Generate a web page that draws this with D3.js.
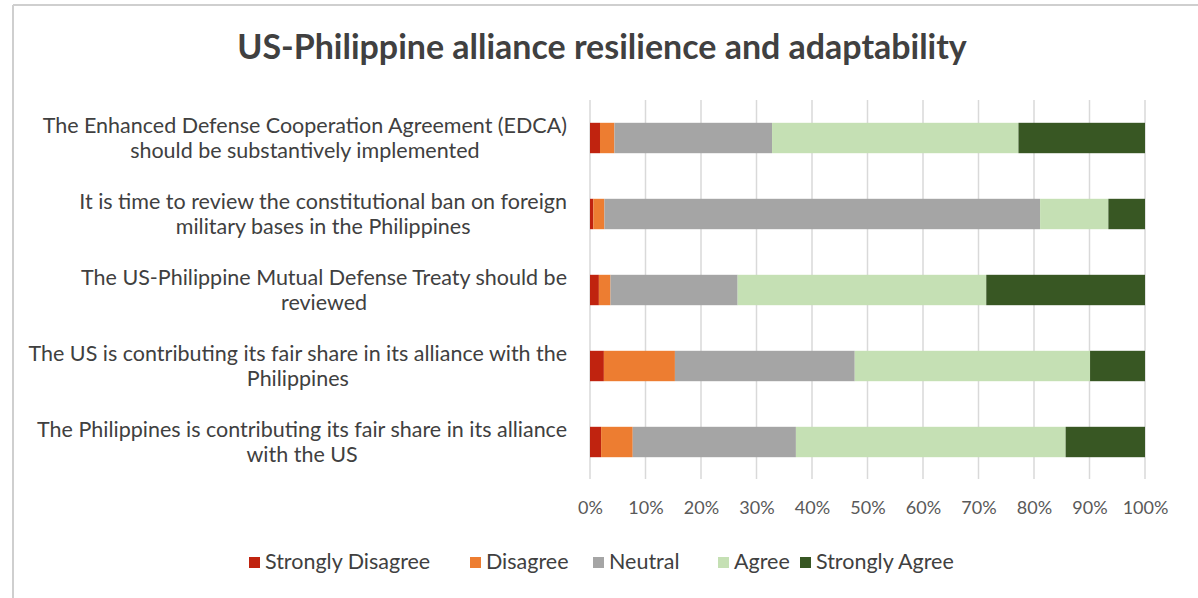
<!DOCTYPE html>
<html>
<head>
<meta charset="utf-8">
<script src="https://cdn.jsdelivr.net/npm/d3@7"></script>
<style>
  html, body { margin: 0; padding: 0; background: #ffffff; }
  svg { display: block; }
  text { font-family: Lato, "Open Sans", "DejaVu Sans", sans-serif; }
</style>
</head>
<body>
<svg id="chart" width="1198" height="598"></svg>
<script>
// Survey statements (top to bottom), each split into its display lines
const statements = [
  ["The Enhanced Defense Cooperation Agreement (EDCA)", "should be substantively implemented"],
  ["It is time to review the constitutional ban on foreign", "military bases in the Philippines"],
  ["The US-Philippine Mutual Defense Treaty should be", "reviewed"],
  ["The US is contributing its fair share in its alliance with the", "Philippines"],
  ["The Philippines is contributing its fair share in its alliance", "with the US"]
];

const responses = ["Strongly Disagree", "Disagree", "Neutral", "Agree", "Strongly Agree"];

// Share of respondents (%) per statement, in the order of `statements`
const stronglyDisagree = [1.8, 0.6, 1.6, 2.5, 2.0];
const disagree         = [2.6, 2.0, 2.1, 12.8, 5.7];
const neutral          = [28.4, 78.5, 22.9, 32.4, 29.4];
const agree            = [44.4, 12.3, 44.8, 42.4, 48.6];
const stronglyAgree    = [22.8, 6.6, 28.6, 9.9, 14.3];

const tickValues = [0, 0.1, 0.2, 0.3, 0.4, 0.5, 0.6, 0.7, 0.8, 0.9, 1.0];

const colors = ["#c0230f", "#ed7d31", "#a5a5a5", "#c5e0b4", "#385723"];

const svg = d3.select("#chart");

// frame
svg.append("line").attr("x1", 13).attr("y1", 5).attr("x2", 1198).attr("y2", 5)
  .attr("stroke", "#cfcfcf").attr("stroke-width", 2);
svg.append("line").attr("x1", 13).attr("y1", 5).attr("x2", 13).attr("y2", 598)
  .attr("stroke", "#cfcfcf").attr("stroke-width", 2);

// scale a text element's font so it spans the given width
function fitWidth(sel, width) {
  const node = sel.node();
  const w = node.getComputedTextLength();
  const fs = parseFloat(sel.attr("font-size"));
  sel.attr("font-size", fs * width / w);
  return fs * width / w;
}

// title
const title = svg.append("text")
  .attr("x", 602).attr("y", 59)
  .attr("text-anchor", "middle")
  .attr("font-size", 30).attr("font-weight", 700)
  .attr("fill", "#404040")
  .text("US-Philippine alliance resilience and adaptability");
fitWidth(title, 730);

const x = d3.scaleLinear().domain([0, 1]).range([590, 1145]);
const y = d3.scaleBand().domain(d3.range(statements.length))
  .range([100, 480]).paddingInner(0.6).paddingOuter(0.3);

// gridlines
svg.append("g").selectAll("line").data(tickValues).join("line")
  .attr("x1", d => x(d)).attr("x2", d => x(d))
  .attr("y1", 100).attr("y2", 479)
  .attr("stroke", "#d9d9d9").attr("stroke-width", 1.5);

// stacked bars
const rows = statements.map((s, i) => ({
  i,
  values: [stronglyDisagree[i], disagree[i], neutral[i], agree[i], stronglyAgree[i]]
}));
const stack = d3.stack().keys(d3.range(responses.length)).value((d, k) => d.values[k] / 100);
const series = stack(rows);

svg.append("g").selectAll("g").data(series).join("g")
  .attr("fill", (d, k) => colors[k])
  .selectAll("rect").data(d => d).join("rect")
  .attr("x", d => x(d[0]))
  .attr("width", d => x(d[1]) - x(d[0]))
  .attr("y", d => y(d.data.i))
  .attr("height", y.bandwidth());

// x axis labels
const xAxis = d3.axisBottom(x).tickValues(tickValues).tickFormat(d3.format(".0%")).tickSize(0).tickPadding(0);
const gx = svg.append("g").attr("transform", "translate(0,501)").call(xAxis);
gx.select(".domain").remove();
gx.selectAll("text").attr("font-size", 18).attr("fill", "#595959")
  .attr("font-family", "Lato, 'Open Sans', sans-serif");

// category labels: lines centred within a right-aligned block
const labelRight = 567;
const catG = svg.append("g");
const probe = catG.append("text").attr("font-size", 20)
  .text("The US is contributing its fair share in its alliance with the");
const catFont = fitWidth(probe, 539);
probe.remove();

statements.forEach((lines, i) => {
  const cy = y(i) + y.bandwidth() / 2;
  const t = catG.append("text").attr("font-size", catFont).attr("fill", "#404040")
    .attr("text-anchor", "middle");
  const spans = lines.map((ln, j) => t.append("tspan").text(ln));
  const maxW = d3.max(spans, s => s.node().getComputedTextLength());
  const cx = labelRight - maxW / 2;
  spans.forEach((s, j) => {
    s.attr("x", cx).attr("y", cy + (j - (lines.length - 1) / 2) * 25 + catFont * 0.35);
  });
});

// legend
const legendX = [249, 470, 593, 718, 800];
const lg = svg.append("g");
responses.forEach((r, k) => {
  lg.append("rect").attr("x", legendX[k]).attr("y", 557).attr("width", 11).attr("height", 11)
    .attr("fill", colors[k]);
  lg.append("text").attr("x", legendX[k] + 16).attr("y", 569)
    .attr("font-size", catFont).attr("fill", "#404040").text(r);
});
</script>
</body>
</html>
